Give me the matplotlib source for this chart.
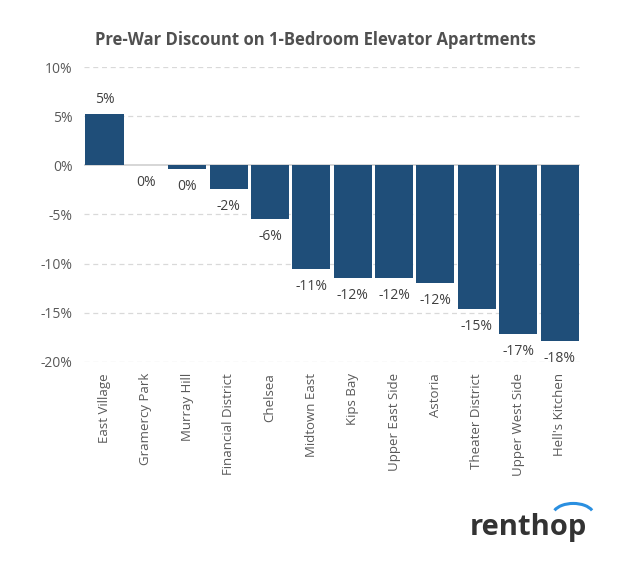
import numpy as np
import matplotlib.pyplot as plt
from matplotlib.patches import Arc

neighborhoods = ["East Village", "Gramercy Park", "Murray Hill", "Financial District",
                 "Chelsea", "Midtown East", "Kips Bay", "Upper East Side", "Astoria",
                 "Theater District", "Upper West Side", "Hell's Kitchen"]
discount = [5.2, 0.0, -0.4, -2.4, -5.5, -10.6, -11.5, -11.5, -12.0, -14.6, -17.2, -17.9]
bar_labels = ["5%", "0%", "0%", "-2%", "-6%", "-11%", "-12%", "-12%", "-12%", "-15%", "-17%", "-18%"]
yticks = [10, 5, 0, -5, -10, -15, -20]

plt.rcParams["font.family"] = ["Open Sans", "DejaVu Sans"]
gray = "#595959"
bar_color = "#1f4e79"

fig = plt.figure(figsize=(6.3, 5.78), dpi=100)
ax = fig.add_axes([0.133, 0.374, 0.788, 0.51])

x = np.arange(len(neighborhoods))
ax.bar(x, discount, width=0.92, color=bar_color, zorder=3)

for xi, v, lab in zip(x, discount, bar_labels):
    if v > 0:
        ax.text(xi, v + 0.7, lab, ha="center", va="bottom", fontsize=10, color="#404040")
    else:
        ax.text(xi, v - 1.0, lab, ha="center", va="top", fontsize=10, color="#404040")

ax.set_xlim(-0.5, len(neighborhoods) - 0.5)
ax.set_ylim(-20, 10)
ax.set_yticks(yticks)
ax.set_yticklabels([f"{t}%" for t in yticks], fontsize=10, color=gray)
for t in yticks:
    if t != 0:
        ax.axhline(t, color="#d9d9d9", linestyle=(0, (4, 3)), linewidth=0.9, zorder=1)
ax.axhline(0, color="#d0d0d0", linewidth=1.2, zorder=2)

ax.set_xticks(x)
ax.set_xticklabels(neighborhoods, rotation=90, fontsize=9.5, color=gray)
ax.tick_params(axis="both", length=0, pad=8)
for s in ax.spines.values():
    s.set_visible(False)

fig.text(0.5, 0.93, "Pre-War Discount on 1-Bedroom Elevator Apartments",
         ha="center", va="center", fontsize=12, fontweight="bold", color="#505050")

# renthop logo
fig.text(0.745, 0.088, "renthop", ha="left", va="center", fontsize=21,
         fontweight="bold", color="#333333")
arc = Arc((0.91, 0.109), 0.065, 0.04, theta1=15, theta2=165,
          transform=fig.transFigure, color="#2a8fe0", linewidth=2.2)
fig.patches.append(arc)

fig.savefig("out.png", dpi=100)
